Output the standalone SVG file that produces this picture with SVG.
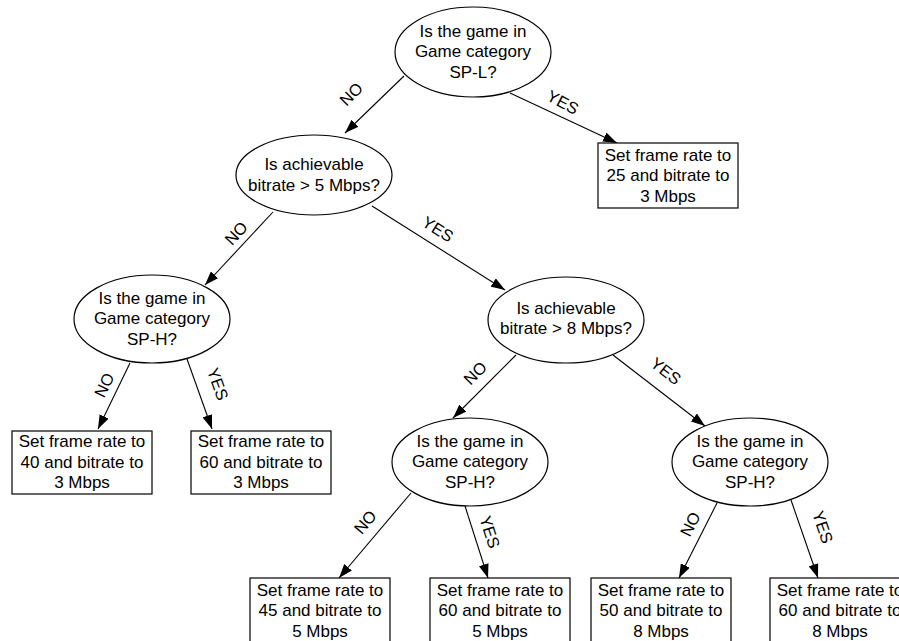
<svg xmlns="http://www.w3.org/2000/svg" width="899" height="641" viewBox="0 0 899 641">
<defs>
<marker id="arr" markerUnits="userSpaceOnUse" markerWidth="14" markerHeight="10" refX="14" refY="5" orient="auto"><path d="M0,0 L14,5 L0,10 z" fill="#000"/></marker>
<style>
.n{fill:#fff;stroke:#000;stroke-width:1.2}
.t{font-family:"Liberation Sans",Arial,sans-serif;font-size:17px;fill:#000;text-anchor:middle}
.l{font-family:"Liberation Sans",Arial,sans-serif;font-size:16.5px;fill:#000;text-anchor:middle;dominant-baseline:central}
.e{stroke:#000;stroke-width:1.1;fill:none;marker-end:url(#arr)}
</style>
</defs>
<rect width="899" height="641" fill="#fff"/>
<g id="connectors">
<line class="e" x1="404" y1="76" x2="345" y2="133"/>
<line class="e" x1="510" y1="93" x2="617" y2="143"/>
<line class="e" x1="273" y1="212" x2="205" y2="285"/>
<line class="e" x1="372" y1="206" x2="505" y2="290"/>
<line class="e" x1="130" y1="363" x2="98" y2="429"/>
<line class="e" x1="187" y1="359" x2="212" y2="429"/>
<line class="e" x1="516" y1="355" x2="453" y2="418"/>
<line class="e" x1="613" y1="355" x2="705" y2="426"/>
<line class="e" x1="411" y1="493" x2="339" y2="578"/>
<line class="e" x1="465" y1="506" x2="488" y2="578"/>
<line class="e" x1="717" y1="503" x2="679" y2="578"/>
<line class="e" x1="791" y1="500" x2="818" y2="578"/>
<text class="l" transform="translate(351,94) rotate(-45)">NO</text>
<text class="l" transform="translate(563,102) rotate(28)">YES</text>
<text class="l" transform="translate(236,233) rotate(-47)">NO</text>
<text class="l" transform="translate(438,229) rotate(32)">YES</text>
<text class="l" transform="translate(104,385) rotate(-64)">NO</text>
<text class="l" transform="translate(218,384) rotate(70)">YES</text>
<text class="l" transform="translate(475,373) rotate(-45)">NO</text>
<text class="l" transform="translate(666,371) rotate(38)">YES</text>
<text class="l" transform="translate(365,522) rotate(-50)">NO</text>
<text class="l" transform="translate(490,532) rotate(72)">YES</text>
<text class="l" transform="translate(690,524) rotate(-63)">NO</text>
<text class="l" transform="translate(823,527) rotate(71)">YES</text>
</g>
<g id="q-spl">
<ellipse class="n" cx="473" cy="52" rx="78" ry="45"/>
<text class="t" x="473" y="37">Is the game in</text>
<text class="t" x="473" y="57">Game category</text>
<text class="t" x="473" y="78">SP-L?</text>
</g>
<g id="r-25-3">
<rect class="n" x="598" y="143" width="140" height="65"/>
<text class="t" x="668" y="161">Set frame rate to</text>
<text class="t" x="668" y="181">25 and bitrate to</text>
<text class="t" x="668" y="202">3 Mbps</text>
</g>
<g id="q-5mbps">
<ellipse class="n" cx="314" cy="175" rx="78" ry="40"/>
<text class="t" x="314" y="170">Is achievable</text>
<text class="t" x="314" y="191">bitrate &gt; 5 Mbps?</text>
</g>
<g id="q-sph-1">
<ellipse class="n" cx="152" cy="319" rx="78" ry="44"/>
<text class="t" x="152" y="304">Is the game in</text>
<text class="t" x="152" y="324">Game category</text>
<text class="t" x="152" y="345">SP-H?</text>
</g>
<g id="r-40-3">
<rect class="n" x="12" y="431" width="140" height="63"/>
<text class="t" x="82" y="447">Set frame rate to</text>
<text class="t" x="82" y="468">40 and bitrate to</text>
<text class="t" x="82" y="488">3 Mbps</text>
</g>
<g id="r-60-3">
<rect class="n" x="191" y="431" width="140" height="63"/>
<text class="t" x="261" y="447">Set frame rate to</text>
<text class="t" x="261" y="468">60 and bitrate to</text>
<text class="t" x="261" y="488">3 Mbps</text>
</g>
<g id="q-8mbps">
<ellipse class="n" cx="566" cy="320" rx="78" ry="43"/>
<text class="t" x="566" y="314">Is achievable</text>
<text class="t" x="566" y="334">bitrate &gt; 8 Mbps?</text>
</g>
<g id="q-sph-2">
<ellipse class="n" cx="470" cy="462" rx="78" ry="44"/>
<text class="t" x="470" y="447">Is the game in</text>
<text class="t" x="470" y="467">Game category</text>
<text class="t" x="470" y="488">SP-H?</text>
</g>
<g id="q-sph-3">
<ellipse class="n" cx="750" cy="462" rx="78" ry="44"/>
<text class="t" x="750" y="447">Is the game in</text>
<text class="t" x="750" y="467">Game category</text>
<text class="t" x="750" y="488">SP-H?</text>
</g>
<g id="r-45-5">
<rect class="n" x="250" y="578" width="140" height="64"/>
<text class="t" x="320" y="596">Set frame rate to</text>
<text class="t" x="320" y="616">45 and bitrate to</text>
<text class="t" x="320" y="637">5 Mbps</text>
</g>
<g id="r-60-5">
<rect class="n" x="430" y="578" width="140" height="64"/>
<text class="t" x="500" y="596">Set frame rate to</text>
<text class="t" x="500" y="616">60 and bitrate to</text>
<text class="t" x="500" y="637">5 Mbps</text>
</g>
<g id="r-50-8">
<rect class="n" x="591" y="578" width="140" height="64"/>
<text class="t" x="661" y="596">Set frame rate to</text>
<text class="t" x="661" y="616">50 and bitrate to</text>
<text class="t" x="661" y="637">8 Mbps</text>
</g>
<g id="r-60-8">
<rect class="n" x="770" y="578" width="140" height="64"/>
<text class="t" x="840" y="596">Set frame rate to</text>
<text class="t" x="840" y="616">60 and bitrate to</text>
<text class="t" x="840" y="637">8 Mbps</text>
</g>
</svg>
